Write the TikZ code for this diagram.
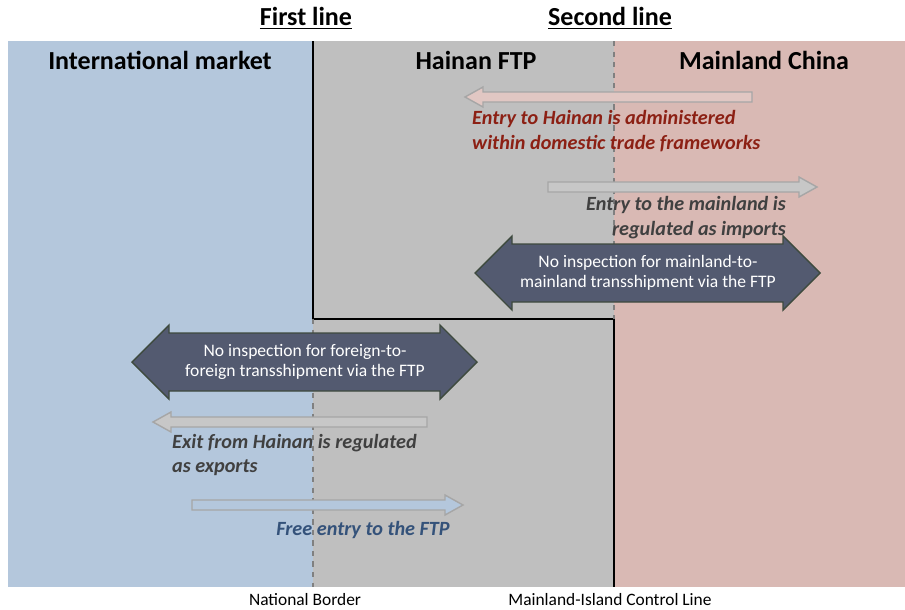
\documentclass[tikz,border=0pt]{standalone}
\usepackage{fontspec}
\setmainfont{Carlito}
\definecolor{intlblue}{RGB}{180,199,220}
\definecolor{ftpgray}{RGB}{191,191,191}
\definecolor{mainpink}{RGB}{217,185,180}
\definecolor{slate}{RGB}{83,90,112}
\definecolor{slateedge}{RGB}{62,74,62}
\definecolor{hainanred}{RGB}{140,32,20}
\definecolor{notegray}{RGB}{64,64,64}
\definecolor{noteblue}{RGB}{52,82,122}

\begin{document}
\begin{tikzpicture}[
  x=0.02cm,y=-0.02cm,
  zone/.style={draw=none},
  header/.style={font=\fontsize{14.8}{18}\selectfont\bfseries},
  linename/.style={font=\fontsize{14.8}{17}\selectfont\bfseries},
  border/.style={font=\fontsize{9.9}{11}\selectfont},
  note/.style={font=\fontsize{11.5}{14.2}\selectfont\bfseries\itshape},
  slatetext/.style={text=white,align=center,font=\fontsize{10}{11.6}\selectfont},
  hollow/.style={draw=black!35,line width=0.8pt},
  bigarrow/.style={draw=slateedge,fill=slate,line width=0.8pt}
]

\def\thinarrow#1,#2,#3,#4;{
  \pgfmathsetmacro\hb{#2-18*sign(#2-#1)}
  \draw[hollow,fill=#4] (#1,#3-5) -- (\hb,#3-5) -- (\hb,#3-10) -- (#2,#3)
    -- (\hb,#3+10) -- (\hb,#3+5) -- (#1,#3+5) -- cycle;
}
\def\widearrow#1,#2,#3;{
  \draw[bigarrow] (#1,#3) -- (#1+37,#3-37) -- (#1+37,#3-29) -- (#2-37,#3-29)
    -- (#2-37,#3-37) -- (#2,#3) -- (#2-37,#3+37) -- (#2-37,#3+29)
    -- (#1+37,#3+29) -- (#1+37,#3+37) -- cycle;
}

\useasboundingbox (0,0) rectangle (905,609);

% the three zones
\fill[zone,intlblue] (8,41) rectangle (313,587);
\fill[zone,ftpgray] (313,41) rectangle (614,587);
\fill[zone,mainpink] (614,41) rectangle (905,587);

% first and second line
\draw[black,line width=1.1pt] (313,41) -- (313,319) -- (614,319) -- (614,587);
\draw[black!50,dashed,line width=0.9pt] (614,41) -- (614,319);
\draw[black!50,dashed,line width=0.9pt] (313,319) -- (313,587);

\node[linename] (first) at (306,18) {\underline{First line}};
\node[linename] (second) at (610,18) {\underline{Second line}};

\node[header] (intl) at (160,60) {International market};
\node[header] (ftp) at (476,60) {Hainan FTP};
\node[header] (mainland) at (764,60) {Mainland China};

% mainland side
\thinarrow 752,465,97,mainpink!80!white;
\node[note,text=hainanred,anchor=west,align=left] (entryHainan) at (466,131)
  {Entry to Hainan is administered\\within domestic trade frameworks};

\thinarrow 548,817,187,black!22;
\node[note,text=notegray,anchor=east,align=right] (entryMain) at (792,218)
  {Entry to the mainland is\\regulated as imports};

\widearrow 475,820,273;
\node[slatetext] (transMain) at (648,273)
  {No inspection for mainland-to-\\mainland transshipment via the FTP};

% international side
\widearrow 132,477,362;
\node[slatetext] (transForeign) at (305,362)
  {No inspection for foreign-to-\\foreign transshipment via the FTP};

\thinarrow 427,153,422,black!22;
\node[note,text=notegray,anchor=west,align=left] (exitHainan) at (166,455)
  {Exit from Hainan is regulated\\as exports};

\thinarrow 192,463,505,intlblue;
\node[note,text=noteblue] (freeEntry) at (363,530) {Free entry to the FTP};

\node[border] (natBorder) at (305,600) {National Border};
\node[border] (controlLine) at (610,600) {Mainland-Island Control Line};

\end{tikzpicture}
\end{document}
